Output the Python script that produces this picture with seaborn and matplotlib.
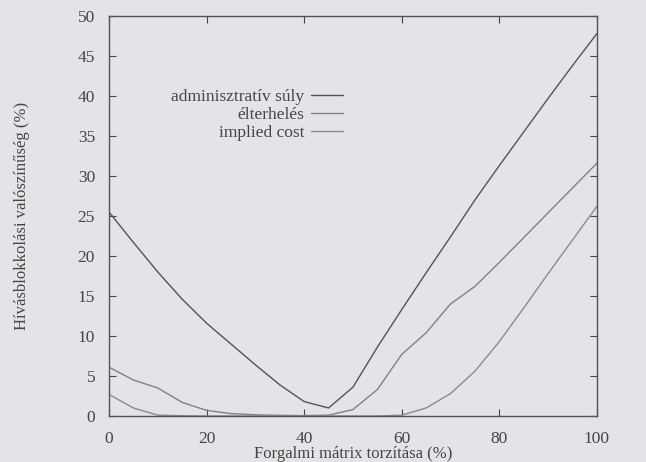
import numpy as np
import pandas as pd
import matplotlib
matplotlib.use('Agg')
import matplotlib.pyplot as plt
import seaborn as sns

# torzitas (%) in 5% steps
torzitas = [0, 5, 10, 15, 20, 25, 30, 35, 40, 45, 50,
            55, 60, 65, 70, 75, 80, 85, 90, 95, 100]
admin_suly = [25.5, 21.7, 18.0, 14.6, 11.6, 9.0, 6.4, 3.9, 1.8, 1.0, 3.6,
              8.6, 13.3, 17.9, 22.4, 27.0, 31.3, 35.5, 39.7, 43.8, 47.8]
elterheles = [6.1, 4.5, 3.5, 1.7, 0.7, 0.3, 0.15, 0.08, 0.05, 0.1, 0.8,
              3.3, 7.7, 10.4, 14.0, 16.2, 19.2, 22.3, 25.4, 28.5, 31.6]
implied_cost = [2.7, 1.0, 0.1, 0.03, 0.0, 0.0, 0.0, 0.0, 0.0, 0.0, 0.0,
                0.0, 0.1, 1.0, 2.8, 5.6, 9.3, 13.5, 17.8, 22.0, 26.2]
series_names = ['adminisztratív súly', 'élterhelés', 'implied cost']

df = pd.concat([
    pd.DataFrame({'x': torzitas, 'y': admin_suly, 'sor': series_names[0]}),
    pd.DataFrame({'x': torzitas, 'y': elterheles, 'sor': series_names[1]}),
    pd.DataFrame({'x': torzitas, 'y': implied_cost, 'sor': series_names[2]}),
])

bg = '#e3e3e8'
ink = '#4a4343'
sns.set_style('ticks')
plt.rcParams['font.family'] = ['Liberation Serif', 'DejaVu Serif']
plt.rcParams['xtick.direction'] = 'in'
plt.rcParams['ytick.direction'] = 'in'
plt.rcParams['text.color'] = ink
plt.rcParams['axes.labelcolor'] = ink
plt.rcParams['xtick.color'] = ink
plt.rcParams['ytick.color'] = ink

fig = plt.figure(figsize=(6.46, 4.62), dpi=100, facecolor=bg)
ax = fig.add_axes([0.1687, 0.0996, 0.7553, 0.8658])
ax.set_facecolor(bg)

palette = {series_names[0]: '#5a5252', series_names[1]: '#858080', series_names[2]: '#8e8a8a'}
sns.lineplot(data=df, x='x', y='y', hue='sor', palette=palette, linewidth=1.0, ax=ax)

ax.set_xlim(0, 100)
ax.set_ylim(0, 50)
ax.set_xticks(np.arange(0, 101, 20))
ax.set_yticks(np.arange(0, 51, 5))
ax.tick_params(axis='x', length=5, width=0.8, top=True, labelsize=12.5, pad=11)
ax.tick_params(axis='y', length=5, width=0.8, right=True, labelsize=12.5, pad=10)
for sp in ax.spines.values():
    sp.set_linewidth(1.0)
    sp.set_color('#5a5252')

ax.set_xlabel('Forgalmi mátrix torzítása (%)', fontsize=12, labelpad=-1)
ax.set_ylabel('Hívásblokkolási valószínűség (%)', fontsize=12, labelpad=34)

leg = ax.legend(loc='upper right', bbox_to_anchor=(0.493, 0.835), frameon=False,
                markerfirst=False, fontsize=12.5, handlelength=1.8, handletextpad=0.4,
                labelspacing=0.1, borderaxespad=0)
for t in leg.get_texts():
    t.set_ha('right')
leg._legend_box.align = 'right'

fig.savefig('out.png', dpi=100, facecolor=bg)
